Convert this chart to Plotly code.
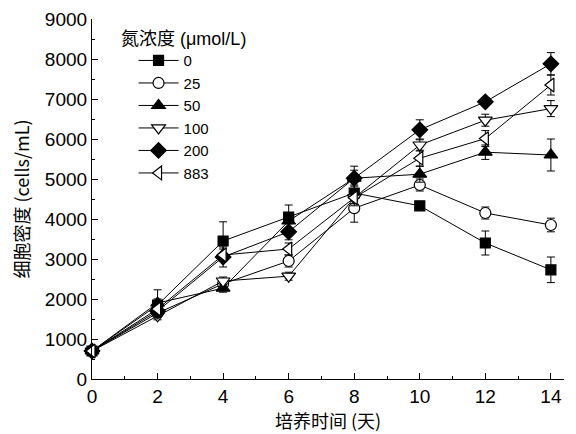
import plotly.graph_objects as go

days = [0, 2, 4, 6, 8, 10, 12, 14]
series_names = ["0", "25", "50", "100", "200", "883"]

v0 = [700, 1850, 3450, 4050, 4650, 4330, 3400, 2730]
e0 = [60, 150, 480, 300, 200, 100, 300, 320]
v25 = [700, 1650, 2380, 2950, 4270, 4850, 4150, 3850]
e25 = [60, 100, 100, 150, 350, 150, 150, 170]
v50 = [700, 1900, 2270, 3950, 5020, 5120, 5670, 5600]
e50 = [60, 330, 100, 200, 200, 200, 180, 400]
v100 = [700, 1580, 2450, 2570, 4530, 5850, 6470, 6760]
e100 = [60, 100, 100, 100, 150, 150, 150, 200]
v200 = [700, 1700, 3050, 3680, 5020, 6230, 6930, 7880]
e200 = [60, 150, 250, 200, 300, 250, 100, 280]
v883 = [700, 1750, 3100, 3250, 4530, 5520, 6010, 7350]
e883 = [60, 150, 150, 150, 200, 200, 200, 250]

values = [v0, v25, v50, v100, v200, v883]
errors = [e0, e25, e50, e100, e200, e883]
symbols = ["square", "circle-open", "triangle-up", "triangle-down-open", "diamond", "triangle-left-open"]
sizes = [10, 11, 12, 12, 12, 12]

fig = go.Figure()
for name, v, e, sym, sz in zip(series_names, values, errors, symbols, sizes):
    fill = "white" if "open" in sym else "black"
    fig.add_trace(go.Scatter(
        x=days, y=v, name=name, mode="lines+markers",
        line=dict(color="black", width=1),
        marker=dict(symbol=sym.replace("-open", ""), size=sz, color=fill,
                    line=dict(color="black", width=1.2)),
        error_y=dict(type="data", array=e, color="black", thickness=1, width=4),
        cliponaxis=False,
    ))

fig.update_layout(
    width=576, height=434,
    margin=dict(l=92, r=12, t=19, b=55),
    plot_bgcolor="white", paper_bgcolor="white",
    font=dict(family="Liberation Sans, Noto Sans CJK SC", size=19, color="black"),
    showlegend=True,
    legend=dict(x=0.088, y=0.93, xanchor="left", yanchor="top",
                font=dict(size=15, family="Liberation Sans"),
                bgcolor="rgba(0,0,0,0)", itemwidth=40, tracegroupgap=0),
    annotations=[dict(text="氮浓度 (μmol/L)", xref="paper", yref="paper",
                      x=0.057, y=0.978, xanchor="left", yanchor="top", showarrow=False,
                      font=dict(size=18, family="Liberation Sans, Noto Sans CJK SC"))],
)
fig.update_xaxes(
    range=[0, 14.4], tickvals=days, ticks="inside", ticklen=6, tickcolor="black",
    showline=True, linecolor="black", linewidth=1.2, showgrid=False, zeroline=False,
    automargin=False,
    minor=dict(tickvals=[1, 3, 5, 7, 9, 11, 13], ticks="inside", ticklen=3, tickcolor="black"),
    title=dict(text="培养时间 (天)", standoff=7, font=dict(size=18, family="Noto Sans CJK SC, Liberation Sans")),
)
fig.update_yaxes(
    range=[0, 9000], dtick=1000, ticks="inside", ticklen=6, tickcolor="black",
    showline=True, linecolor="black", linewidth=1.2, showgrid=False, zeroline=False,
    automargin=False,
    minor=dict(dtick=500, ticks="inside", ticklen=3, tickcolor="black"),
    title=dict(text="细胞密度 (cells/mL)", standoff=10, font=dict(size=18, family="Noto Sans CJK SC, Liberation Sans")),
)

fig.write_html("out.html")
